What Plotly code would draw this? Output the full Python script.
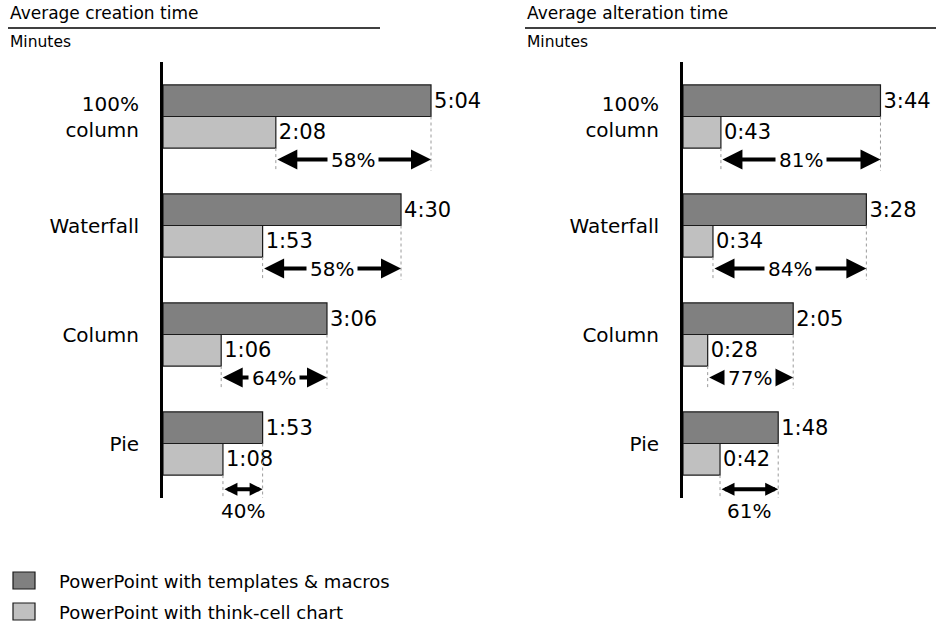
import plotly.graph_objects as go

# ---------------- data ----------------
categories = ["100%<br>column", "Waterfall", "Column", "Pie"]
creation_macros = ["5:04", "4:30", "3:06", "1:53"]
creation_thinkcell = ["2:08", "1:53", "1:06", "1:08"]
alteration_macros = ["3:44", "3:28", "2:05", "1:48"]
alteration_thinkcell = ["0:43", "0:34", "0:28", "0:42"]
creation_saving = ["58%", "58%", "64%", "40%"]
alteration_saving = ["81%", "84%", "77%", "61%"]
series_names = ["PowerPoint with templates & macros", "PowerPoint with think-cell chart"]
panel_titles = ["Average creation time", "Average alteration time"]
unit_label = "Minutes"

# ---------------- style ----------------
W, H = 936, 628
FONT = "DejaVu Sans"
DARK = "#808080"
LIGHT = "#c0c0c0"
PX_PER_SEC = 0.8816
Y_TOP, Y_BOT = 62, 498          # pixel extent of the category axes
N = len(categories)
CAT_PX = (Y_BOT - Y_TOP) / N


def secs(s):
    m, sec = s.split(":")
    return int(m) * 60 + int(sec)


def px(x):
    return x / W


def py(y):
    return 1 - y / H


def cat_to_paper(v):
    return py(Y_TOP + (v + 0.5) * CAT_PX)


fig = go.Figure()

panels = [
    dict(xa="x", ya="y", macros=creation_macros, tc=creation_thinkcell, sav=creation_saving,
         title_x=8, line_x1=380, title=panel_titles[0]),
    dict(xa="x2", ya="y2", macros=alteration_macros, tc=alteration_thinkcell, sav=alteration_saving,
         title_x=525, line_x1=936, title=panel_titles[1]),
]

shapes = []
annotations = []
BAR_W = 0.29
for p in panels:
    mac = [secs(v) for v in p["macros"]]
    tc = [secs(v) for v in p["tc"]]
    for name, vals, labels, col in [(series_names[0], mac, p["macros"], DARK),
                                    (series_names[1], tc, p["tc"], LIGHT)]:
        fig.add_trace(go.Bar(
            x=vals, y=categories, orientation="h", name=name,
            xaxis=p["xa"], yaxis=p["ya"],
            marker=dict(color=col, line=dict(color="#1a1a1a", width=1.2)),
            text=labels, textposition="outside", constraintext="none", cliponaxis=False,
            textfont=dict(family=FONT, size=21, color="black"),
            showlegend=False, hoverinfo="skip",
        ))
    xref, yref = p["xa"], p["ya"]
    for i, (m, t, s) in enumerate(zip(mac, tc, p["sav"])):
        # dotted guide lines
        shapes.append(dict(type="line", xref=xref, yref=yref, x0=m, x1=m, y0=i, y1=i + 0.5,
                           line=dict(color="#9a9a9a", width=1, dash="dot")))
        shapes.append(dict(type="line", xref=xref, yref=yref, x0=t, x1=t, y0=i + BAR_W, y1=i + 0.5,
                           line=dict(color="#9a9a9a", width=1, dash="dot")))
        small = (m - t) * PX_PER_SEC < 70
        ay = i + (0.42 if small else 0.395)
        annotations.append(dict(
            x=m, y=ay, ax=t, ay=ay, xref=xref, yref=yref, axref=xref, ayref=yref,
            showarrow=True, arrowhead=2, arrowside="end+start",
            arrowsize=0.65 if small else 1.0,
            arrowwidth=4, arrowcolor="black", standoff=0, startstandoff=0, text=""))
        if small:
            annotations.append(dict(
                x=(m + t) / 2, y=cat_to_paper(ay + 0.195), xref=xref, yref="paper",
                yanchor="middle", text=s, showarrow=False,
                font=dict(family=FONT, size=20, color="black")))
        else:
            annotations.append(dict(
                x=(m + t) / 2, y=ay, xref=xref, yref=yref,
                text=s, showarrow=False, bgcolor="white", borderpad=3,
                font=dict(family=FONT, size=20, color="black")))
    # panel titles
    annotations.append(dict(x=px(p["title_x"]), y=py(13), xref="paper", yref="paper",
                            xanchor="left", yanchor="middle", showarrow=False, text=p["title"],
                            font=dict(family=FONT, size=17, color="black")))
    annotations.append(dict(x=px(p["title_x"]), y=py(42), xref="paper", yref="paper",
                            xanchor="left", yanchor="middle", showarrow=False, text=unit_label,
                            font=dict(family=FONT, size=15.5, color="black")))
    shapes.append(dict(type="line", xref="paper", yref="paper", x0=px(p["title_x"]),
                       x1=px(p["line_x1"]), y0=py(28), y1=py(28),
                       line=dict(color="black", width=1.5)))

# legend
for k, (name, col) in enumerate(zip(series_names, [DARK, LIGHT])):
    yc = 581 + k * 31
    shapes.append(dict(type="rect", xref="paper", yref="paper", x0=px(13), x1=px(35),
                       y0=py(yc - 9), y1=py(yc + 8), fillcolor=col,
                       line=dict(color="#1a1a1a", width=1.2)))
    annotations.append(dict(x=px(57), y=py(yc), xref="paper", yref="paper",
                            xanchor="left", yanchor="middle", showarrow=False, text=name,
                            font=dict(family=FONT, size=18, color="black")))

ydom = [py(Y_BOT), py(Y_TOP)]
yaxis_common = dict(domain=ydom, range=[N - 0.5, -0.5], showline=True, linewidth=3,
                    linecolor="black", ticks="", showgrid=False, zeroline=False,
                    ticklabelstandoff=17, tickfont=dict(family=FONT, size=20, color="black"),
                    fixedrange=True)
fig.update_layout(
    width=W, height=H, margin=dict(l=0, r=0, t=0, b=0),
    paper_bgcolor="white", plot_bgcolor="white",
    barmode="group", bargap=0.42, bargroupgap=0,
    xaxis=dict(domain=[px(163), px(163 + 360 * PX_PER_SEC)], range=[0, 360], visible=False),
    xaxis2=dict(domain=[px(683), px(683 + 280 * PX_PER_SEC)], range=[0, 280], visible=False),
    yaxis=dict(anchor="x", **yaxis_common),
    yaxis2=dict(anchor="x2", **yaxis_common),
    shapes=shapes, annotations=annotations,
    font=dict(family=FONT, color="black"),
)

fig.write_html("out.html")
